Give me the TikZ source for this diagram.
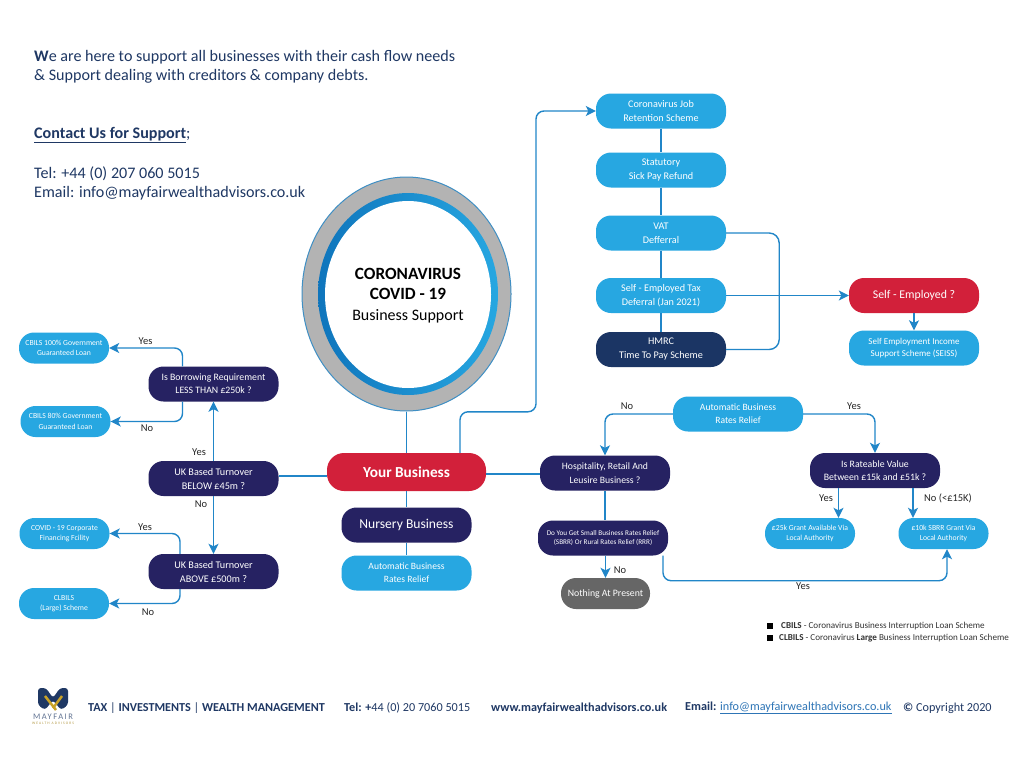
\documentclass[tikz,border=0pt]{standalone}
\usepackage{fontspec}
\setmainfont{Carlito}
\usetikzlibrary{arrows.meta,shapes.geometric}
\definecolor{skyfill}{HTML}{27A7E1}
\definecolor{deepblue}{HTML}{0F75BC}
\definecolor{navyfill}{HTML}{262262}
\definecolor{redfill}{HTML}{D2203A}
\definecolor{hmrcfill}{HTML}{1B3564}
\definecolor{greyfill}{HTML}{666666}
\definecolor{linkblue}{HTML}{2186C8}
\definecolor{ringgrey}{HTML}{B3B3B3}
\definecolor{ringedge}{HTML}{3F8FC4}
\definecolor{textnavy}{HTML}{1F3864}
\definecolor{mailblue}{HTML}{2E75B6}
\definecolor{logogold}{HTML}{C9A227}
\newcommand{\fsize}[2]{\fontsize{#1}{#2}\selectfont}
\tikzset{
  pill/.style={rectangle,rounded corners=15pt,minimum width=130pt,minimum height=35pt,
    inner sep=0pt,align=center,text=white,font=\fsize{10.2}{14}},
  sky/.style={pill,fill=skyfill},
  navy/.style={pill,fill=navyfill},
  smallsky/.style={sky,minimum width=90pt,minimum height=31pt,font=\fsize{7.7}{10.5}},
  link/.style={draw=linkblue,line width=1.4pt},
  arrowlink/.style={link,-{Stealth[length=10pt,width=10pt,inset=2.5pt]}},
  answer/.style={font=\fsize{10.5}{12},text=black!85},
  head/.style={anchor=west,inner sep=0pt,text=textnavy,font=\fsize{16.1}{19}},
  foot/.style={anchor=west,inner sep=0pt,text=textnavy,font=\fsize{12.2}{14}},
  legend/.style={anchor=west,inner sep=0pt,text=black!80,font=\fsize{9.1}{12}},
  legendmark/.style={fill=black,inner sep=0pt,minimum size=6pt}
}
\begin{document}
\begin{tikzpicture}[x=1pt,y=-1pt]
  \useasboundingbox (0,0) rectangle (1024,768);
  \fill[white] (0,0) rectangle (1024,768);
  % heading text
  \node[head] (intro1) at (34,57) {\textbf{W}e are here to support all businesses with their cash flow needs};
  \node[head] (intro2) at (34,76) {\& Support dealing with creditors \& company debts.};
  \node[head] (contact) at (34,135) {\textbf{\underline{Contact Us for Support}};};
  \node[head] (tel) at (34,174) {Tel: +44 (0) 207 060 5015};
  \node[head] (email) at (34,193) {Email: info@mayfairwealthadvisors.co.uk};
  % central ring
  \node[ellipse,draw=ringedge,line width=1pt,fill=ringgrey,minimum width=209pt,minimum height=234pt,inner sep=0pt] (ring) at (406.5,294) {};
  \shade[left color=deepblue,right color=skyfill] (408,294) ellipse (90 and 101);
  \fill[white] (408,294.5) ellipse (83 and 93.5);
  \node[inner sep=0pt,align=center,font=\fsize{16}{20.5}] (title) at (408,295.5) {{\fsize{17.2}{20.5}\textbf{CORONAVIRUS}}\\{\fsize{17.2}{20.5}\textbf{COVID - 19}}\\Business Support};
  % middle column
  \node[pill,fill=redfill,minimum width=159pt,minimum height=38pt,rounded corners=17pt,font=\fsize{15.3}{18}\bfseries] (your) at (406.5,472) {Your Business};
  \node[navy,font=\fsize{13.6}{16}] (nursery) at (406.5,525) {Nursery Business};
  \node[sky,font=\fsize{9.6}{13}] (autoa) at (406.5,573) {Automatic Business\\Rates Relief};
  % left side
  \node[navy,font=\fsize{9.8}{13}] (borrow) at (213.5,384) {Is Borrowing Requirement\\LESS THAN £250k ?};
  \node[navy] (turnlow) at (213.5,478.5) {UK Based Turnover\\BELOW £45m ?};
  \node[navy] (turnhigh) at (213.5,571.5) {UK Based Turnover\\ABOVE £500m ?};
  \node[smallsky] (cbilsfull) at (64,348) {CBILS 100\% Government\\Guaranteed Loan};
  \node[smallsky] (cbilspart) at (65.5,421.5) {CBILS 80\% Government\\Guaranteed Loan};
  \node[smallsky] (corporate) at (64.5,533.5) {COVID - 19 Corporate\\Financing Fcility};
  \node[smallsky] (clbils) at (64,603.5) {CLBILS\\(Large) Scheme};
  % upper right column
  \node[sky] (job) at (661,111) {Coronavirus Job\\Retention Scheme};
  \node[sky] (sick) at (661,170) {Statutory\\Sick Pay Refund};
  \node[sky] (vat) at (661,233) {VAT\\Defferral};
  \node[sky] (selftax) at (661,295.5) {Self - Employed Tax\\Deferral (Jan 2021)};
  \node[pill,fill=hmrcfill] (hmrc) at (661,349.5) {HMRC\\Time To Pay Scheme};
  \node[pill,fill=redfill,font=\fsize{11.8}{16}] (selfemp) at (914,295.5) {Self - Employed ?};
  \node[sky,font=\fsize{9}{12.5}] (seiss) at (914,348) {Self Employment Income\\Support Scheme (SEISS)};
  % lower right
  \node[sky,font=\fsize{9.6}{13}] (autob) at (738,414) {Automatic Business\\Rates Relief};
  \node[navy,font=\fsize{9.7}{13.5}] (hosp) at (605,473) {Hospitality, Retail And\\Leusire Business ?};
  \node[navy,font=\fsize{7.2}{9.5}] (small) at (603,538) {Do You Get Small Business Rates Relief\\(SBRR) Or Rural Rates Relief (RRR)};
  \node[pill,fill=greyfill,minimum width=89pt,minimum height=31pt,font=\fsize{9.8}{13}] (nothing) at (605.5,593.5) {Nothing At Present};
  \node[navy,font=\fsize{9.8}{13}] (rateable) at (875,470.5) {Is Rateable Value\\Between £15k and £51k ?};
  \node[smallsky] (grantlarge) at (810,533.5) {£25k Grant Available Via\\Local Authority};
  \node[smallsky] (grantsmall) at (943.5,533.5) {£10k SBRR Grant Via\\Local Authority};
  % connectors, centre
  \draw[link] (ring.south) -- (your.north);
  \draw[link] (your.south) -- (nursery.north);
  \draw[link] (nursery.south) -- (autoa.north);
  \draw[link] ([yshift=-4pt]your.west) -- ([yshift=-4pt]your.west -| turnlow.east);
  \draw[link] ([yshift=-2pt]your.east) -- ([yshift=-2pt]your.east -| hosp.west);
  \draw[arrowlink,rounded corners=8pt] ([xshift=53.5pt]your.north) -- ++(0,-41) -- ++(76,0) |- (job.west);
  % connectors, left
  \draw[arrowlink] (turnlow.north) -- (borrow.south);
  \draw[arrowlink] (turnlow.south) -- (turnhigh.north);
  \draw[arrowlink,rounded corners=8pt] ([xshift=-31pt]borrow.north) |- (cbilsfull.east);
  \draw[arrowlink,rounded corners=8pt] ([xshift=-31pt]borrow.south) |- (cbilspart.east);
  \draw[arrowlink,rounded corners=8pt] ([xshift=-33.5pt]turnhigh.north) |- (corporate.east);
  \draw[arrowlink,rounded corners=8pt] ([xshift=-33.5pt]turnhigh.south) |- (clbils.east);
  % connectors, upper right
  \draw[link] (job.south) -- (sick.north);
  \draw[link] (sick.south) -- (vat.north);
  \draw[link] (vat.south) -- (selftax.north);
  \draw[link] (selftax.south) -- (hmrc.north);
  \draw[link,rounded corners=10pt] (vat.east) -- ++(53,0) |- (hmrc.east);
  \draw[arrowlink] (selftax.east) -- (selfemp.west);
  \draw[arrowlink] (selfemp.south) -- (seiss.north);
  % connectors, lower right
  \draw[arrowlink,rounded corners=8pt] (autob.west) -| (hosp.north);
  \draw[arrowlink,rounded corners=8pt] (autob.east) -| (rateable.north);
  \draw[link] (hosp.south) -- (hosp.south |- small.north);
  \draw[arrowlink] (small.south -| nothing.north) -- (nothing.north);
  \draw[arrowlink] ([xshift=-36.5pt]rateable.south) -- ([xshift=-36.5pt]rateable.south |- grantlarge.north);
  \draw[arrowlink] ([xshift=38pt]rateable.south) -- ([xshift=38pt]rateable.south |- grantsmall.north);
  \draw[arrowlink,rounded corners=8pt] ([xshift=60pt]small.south) -- ++(0,25) -| ([xshift=3.5pt]grantsmall.south);
  % yes and no labels
  \node[answer] (yesa) at (145.5,341) {Yes};
  \node[answer] (noa) at (147,428) {No};
  \node[answer] (yesb) at (199,452) {Yes};
  \node[answer] (nob) at (201,504) {No};
  \node[answer] (yesc) at (145,527) {Yes};
  \node[answer] (noc) at (148,612) {No};
  \node[answer] (nod) at (627,406) {No};
  \node[answer] (yesd) at (854,406) {Yes};
  \node[answer] (yese) at (826,498) {Yes};
  \node[answer] (noe) at (948,498) {No (<£15K)};
  \node[answer] (nof) at (620,570) {No};
  \node[answer] (yesf) at (803,586) {Yes};
  % legend
  \node[legendmark] (marka) at (770,626) {};
  \node[legendmark] (markb) at (770,638) {};
  \node[legend] (cbilstext) at (781,626) {\textbf{CBILS} - Coronavirus Business Interruption Loan Scheme};
  \node[legend] (clbilstext) at (779,638) {\textbf{CLBILS} - Coronavirus \textbf{Large} Business Interruption Loan Scheme};
  % footer
  \fill[textnavy,rounded corners=3pt] (38,688) -- (46,688) -- (53,698) -- (60,688) -- (68,688) -- (68,705) -- (61,710) -- (53,700) -- (45,710) -- (38,705) -- cycle;
  \draw[logogold,line width=2.5pt] (45,696) -- (56,710);
  \draw[logogold,line width=2.5pt] (62,696) -- (53,708);
  \node[inner sep=0pt,text=textnavy!70,font=\fsize{8.5}{9}\addfontfeature{LetterSpace=18}] (logoname) at (53,716.5) {MAYFAIR};
  \node[inner sep=0pt,text=logogold!70!gray,font=\fsize{3.6}{4}\addfontfeature{LetterSpace=30}] (logosub) at (53,723) {WEALTH ADVISORS};
  \node[foot] (foottax) at (88,708) {\textbf{TAX} | \textbf{INVESTMENTS} | \textbf{WEALTH MANAGEMENT}};
  \node[foot] (foottel) at (344,708) {\textbf{Tel: +}44 (0) 20 7060 5015};
  \node[foot] (footweb) at (491,708) {\textbf{www.mayfairwealthadvisors.co.uk}};
  \node[foot] (footmail) at (685,708) {\textbf{Email:} \textcolor{mailblue}{\underline{info@mayfairwealthadvisors.co.uk}}};
  \node[foot] (footcopy) at (903,708) {\textbf{©} Copyright 2020};
\end{tikzpicture}
\end{document}
